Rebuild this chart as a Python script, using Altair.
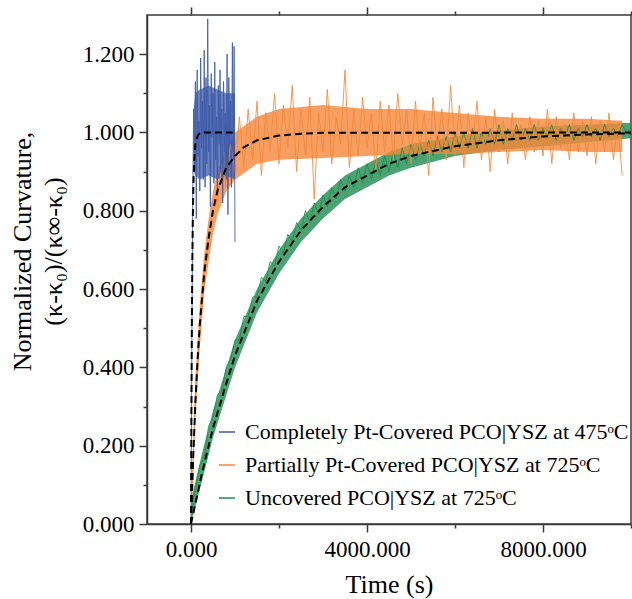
import altair as alt
import pandas as pd

# ---------------- data ----------------
series_names = [
    "Completely Pt-Covered PCO|YSZ at 475ᵒC",
    "Partially Pt-Covered PCO|YSZ at 725ᵒC",
    "Uncovered PCO|YSZ at 725ᵒC",
]
series_colors = ["#3C59A8", "#F5873A", "#1E8C4E"]

blue_step = 20
blue_y = [0.00, 0.48, 0.83, 1.06, 0.90, 1.13, 0.78, 1.16, 0.94, 1.03,
          0.85, 1.19, 0.96, 1.08, 0.88, 1.21, 0.86, 1.14, 0.92, 1.29,
          0.95, 1.07, 0.81, 1.15, 0.99, 1.10, 0.87, 1.18, 0.93, 1.04,
          0.84, 1.12, 0.97, 1.16, 0.90, 1.06, 0.82, 1.13, 0.95, 1.05,
          0.88, 1.20, 0.79, 1.14, 0.97, 1.08, 0.86, 1.23, 0.93, 1.22,
          0.72]

orange_step = 100
orange_y = [0.00, 0.33, 0.49, 0.66, 0.71, 0.83, 0.82, 0.92, 0.86, 0.97,
            0.90, 1.04, 0.91, 1.06, 0.93, 1.08, 0.89, 1.05, 0.95, 1.10,
            0.92, 1.07, 0.96, 1.12, 0.90, 1.06, 0.94, 1.09, 0.83, 1.05,
            0.95, 1.11, 0.92, 1.04, 0.97, 1.16, 0.91, 1.06, 0.94, 1.09,
            0.96, 1.05, 0.90, 1.08, 0.95, 1.07, 0.93, 1.10, 0.97, 1.06,
            0.92, 1.08, 0.96, 1.05, 0.89, 1.09, 0.95, 1.06, 0.93, 1.12,
            0.94, 1.07, 0.91, 1.05, 0.96, 1.08, 0.93, 1.04, 0.90, 1.06,
            0.95, 1.03, 0.92, 1.05, 0.96, 1.02, 0.93, 1.04, 0.95, 1.03,
            0.94, 1.06, 0.92, 1.04, 0.96, 1.02, 0.93, 1.05, 0.95, 1.03,
            0.94, 1.04, 0.92, 1.03, 0.95, 1.05, 0.93, 1.02, 0.89]

green_step = 100
green_y = [0.03, 0.09, 0.15, 0.17, 0.25, 0.27, 0.33, 0.34, 0.40, 0.42,
           0.47, 0.47, 0.53, 0.53, 0.58, 0.58, 0.63, 0.62, 0.67, 0.66,
           0.71, 0.69, 0.74, 0.72, 0.77, 0.75, 0.80, 0.77, 0.82, 0.79,
           0.84, 0.81, 0.86, 0.83, 0.88, 0.85, 0.89, 0.86, 0.91, 0.87,
           0.92, 0.88, 0.93, 0.89, 0.94, 0.90, 0.95, 0.91, 0.96, 0.92,
           0.97, 0.93, 0.97, 0.94, 0.98, 0.94, 0.99, 0.95, 0.99, 0.95,
           1.00, 0.96, 1.00, 0.96, 1.01, 0.96, 1.00, 0.97, 1.01, 0.97,
           1.02, 0.97, 1.01, 0.98, 1.02, 0.98, 1.01, 0.98, 1.02, 0.98,
           1.01, 0.99, 1.02, 0.98, 1.01, 0.99, 1.02, 0.98, 1.01, 0.99,
           1.02, 0.99, 1.01, 0.98, 1.02, 0.99, 1.01, 0.99, 1.02, 1.00,
           1.01]

# dense core of each noisy band (lower / upper edge)
blue_band_t = [60, 100, 200, 400, 600, 800, 1000]
blue_band_lo = [0.90, 0.89, 0.88, 0.89, 0.88, 0.89, 0.88]
blue_band_hi = [1.06, 1.10, 1.11, 1.12, 1.11, 1.10, 1.10]

orange_band_t = [0, 100, 200, 300, 400, 500, 600, 800, 1000, 1500, 2000, 3000,
                 4000, 5000, 6000, 7000, 8000, 9000, 9800]
orange_band_lo = [0.00, 0.27, 0.45, 0.59, 0.67, 0.74, 0.79, 0.85, 0.88, 0.92, 0.93, 0.935,
                  0.94, 0.945, 0.945, 0.95, 0.955, 0.95, 0.95]
orange_band_hi = [0.03, 0.37, 0.56, 0.69, 0.78, 0.85, 0.90, 0.96, 1.00, 1.04, 1.06, 1.07,
                  1.06, 1.06, 1.05, 1.04, 1.035, 1.035, 1.03]

green_band_t = [0, 250, 500, 750, 1000, 1500, 2000, 2500, 3000, 3500, 4000, 4500,
                5000, 6000, 7000, 8000, 9000, 10000]
green_band_lo = [0.00, 0.11, 0.22, 0.31, 0.40, 0.54, 0.64, 0.72, 0.78, 0.83, 0.86, 0.89,
                 0.91, 0.94, 0.955, 0.965, 0.975, 0.985]
green_band_hi = [0.06, 0.18, 0.29, 0.38, 0.47, 0.60, 0.70, 0.78, 0.84, 0.89, 0.92, 0.95,
                 0.97, 0.99, 1.005, 1.015, 1.02, 1.025]

blue_fit_t = [0, 10, 20, 30, 40, 50, 60, 80, 100, 130, 160, 200, 300, 1000]
blue_fit_y = [0, 0.30, 0.52, 0.66, 0.77, 0.84, 0.89, 0.94, 0.97, 0.985, 0.993, 0.998, 1.0, 1.0]

orange_fit_t = [0, 50, 100, 150, 200, 300, 400, 500, 600, 700, 800, 1000, 1200, 1500, 2000, 2500, 3000, 10000]
orange_fit_y = [0, 0.17, 0.31, 0.42, 0.51, 0.64, 0.73, 0.80, 0.85, 0.88, 0.91, 0.94, 0.962, 0.98, 0.992, 0.997, 0.999, 1.0]

green_fit_t = [0, 250, 500, 750, 1000, 1500, 2000, 2500, 3000, 3500, 4000, 4500, 5000, 6000, 7000, 8000, 9000, 10000]
green_fit_y = [0, 0.13, 0.245, 0.34, 0.43, 0.57, 0.67, 0.75, 0.81, 0.86, 0.89, 0.92, 0.94, 0.965, 0.98, 0.99, 0.995, 0.998]

x_ticks = [0, 2000, 4000, 6000, 8000, 10000]
y_ticks = [0.0, 0.1, 0.2, 0.3, 0.4, 0.5, 0.6, 0.7, 0.8, 0.9, 1.0, 1.1, 1.2]

# ---------------- tables ----------------
rows = []
for name, step, ys, order in [(series_names[2], green_step, green_y, 0),
                              (series_names[1], orange_step, orange_y, 1),
                              (series_names[0], blue_step, blue_y, 2)]:
    for i, v in enumerate(ys):
        rows.append({"t": i * step, "y": v, "series": name, "ord": order})
data = pd.DataFrame(rows)


def band_df(ts, lo, hi):
    return pd.DataFrame({"t": ts, "y": lo, "hi": hi})


fit_rows = []
for name, ts, ys in [("blue", blue_fit_t, blue_fit_y),
                     ("orange", orange_fit_t, orange_fit_y),
                     ("green", green_fit_t, green_fit_y)]:
    for t, v in zip(ts, ys):
        fit_rows.append({"t": t, "y": v, "fit": name})
fits = pd.DataFrame(fit_rows)

FONT = "Liberation Serif"
AX = "#3a3a3a"

xscale = alt.Scale(domain=[-1000, 10000], nice=False, zero=False)
yscale = alt.Scale(domain=[0, 1.3], nice=False)

major_x_size = {"condition": {"test": "datum.value % 4000 === 0", "value": 8}, "value": 4}
major_y_size = {"condition": {"test": "round(datum.value * 10) % 2 === 0", "value": 8}, "value": 4}

x_axis = alt.Axis(
    values=x_ticks, title="Time (s)", grid=False,
    labelExpr="datum.value % 4000 === 0 ? format(datum.value, '.3f') : ''",
    tickSize=major_x_size, labelPadding=6, titlePadding=10,
)
y_axis = alt.Axis(
    values=y_ticks, title=["Normalized Curvature,", "(κ-κ₀)/(κ∞-κ₀)"], grid=False,
    labelExpr="round(datum.value * 10) % 2 === 0 ? format(datum.value, '.3f') : ''",
    tickSize=major_y_size, labelPadding=5, titlePadding=16, titleLineHeight=31,
    titleY=236,
)


def band(ts, lo, hi, color, opacity):
    return alt.Chart(band_df(ts, lo, hi)).mark_area(color=color, opacity=opacity, clip=True).encode(
        x=alt.X("t:Q", scale=xscale, axis=None),
        y=alt.Y("y:Q", scale=yscale, axis=y_axis),
        y2="hi:Q",
    )


lines = alt.Chart(data).mark_line(strokeWidth=1, opacity=0.85, clip=True).encode(
    x=alt.X("t:Q", scale=xscale, axis=x_axis),
    y=alt.Y("y:Q", scale=yscale, axis=y_axis),
    color=alt.Color("series:N", scale=alt.Scale(domain=series_names, range=series_colors),
                    legend=alt.Legend(title=None, orient="none", legendX=69, legendY=406,
                                      symbolType="M-1,0H1", symbolSize=256, symbolStrokeWidth=1.5,
                                      symbolOpacity=1, symbolFillColor="transparent",
                                      labelFont=FONT, labelFontSize=22, labelColor="black",
                                      labelLimit=500, labelOffset=7, rowPadding=11, padding=0)),
    order=alt.Order("ord:Q"),
    detail="series:N",
)

fit_lines = alt.Chart(fits).mark_line(color="black", strokeWidth=2, strokeDash=[7, 4], clip=True).encode(
    x=alt.X("t:Q", scale=xscale,
            axis=alt.Axis(orient="top", values=x_ticks, labels=False, title=None, grid=False,
                          domain=False, tickSize=major_x_size)),
    y=alt.Y("y:Q", scale=yscale, axis=y_axis),
    detail="fit:N",
)

chart = alt.layer(
    band(green_band_t, green_band_lo, green_band_hi, series_colors[2], 0.8),
    band(orange_band_t, orange_band_lo, orange_band_hi, series_colors[1], 0.8),
    band(blue_band_t, blue_band_lo, blue_band_hi, series_colors[0], 0.75),
    lines,
    fit_lines,
).resolve_axis(x="independent").properties(
    width=484, height=509,
    padding={"left": 147, "top": 15, "right": 1, "bottom": 75},
    autosize="none",
).configure_view(stroke=AX, strokeWidth=1.5).configure_axis(
    domainColor=AX, domainWidth=1.5, tickColor=AX, tickWidth=1.5,
    labelFont=FONT, labelFontSize=23, labelColor="black",
    titleFont=FONT, titleFontSize=26, titleColor="black", titleFontWeight="normal",
)

chart.save("out.html", embed_options={"renderer": "svg", "actions": False})
